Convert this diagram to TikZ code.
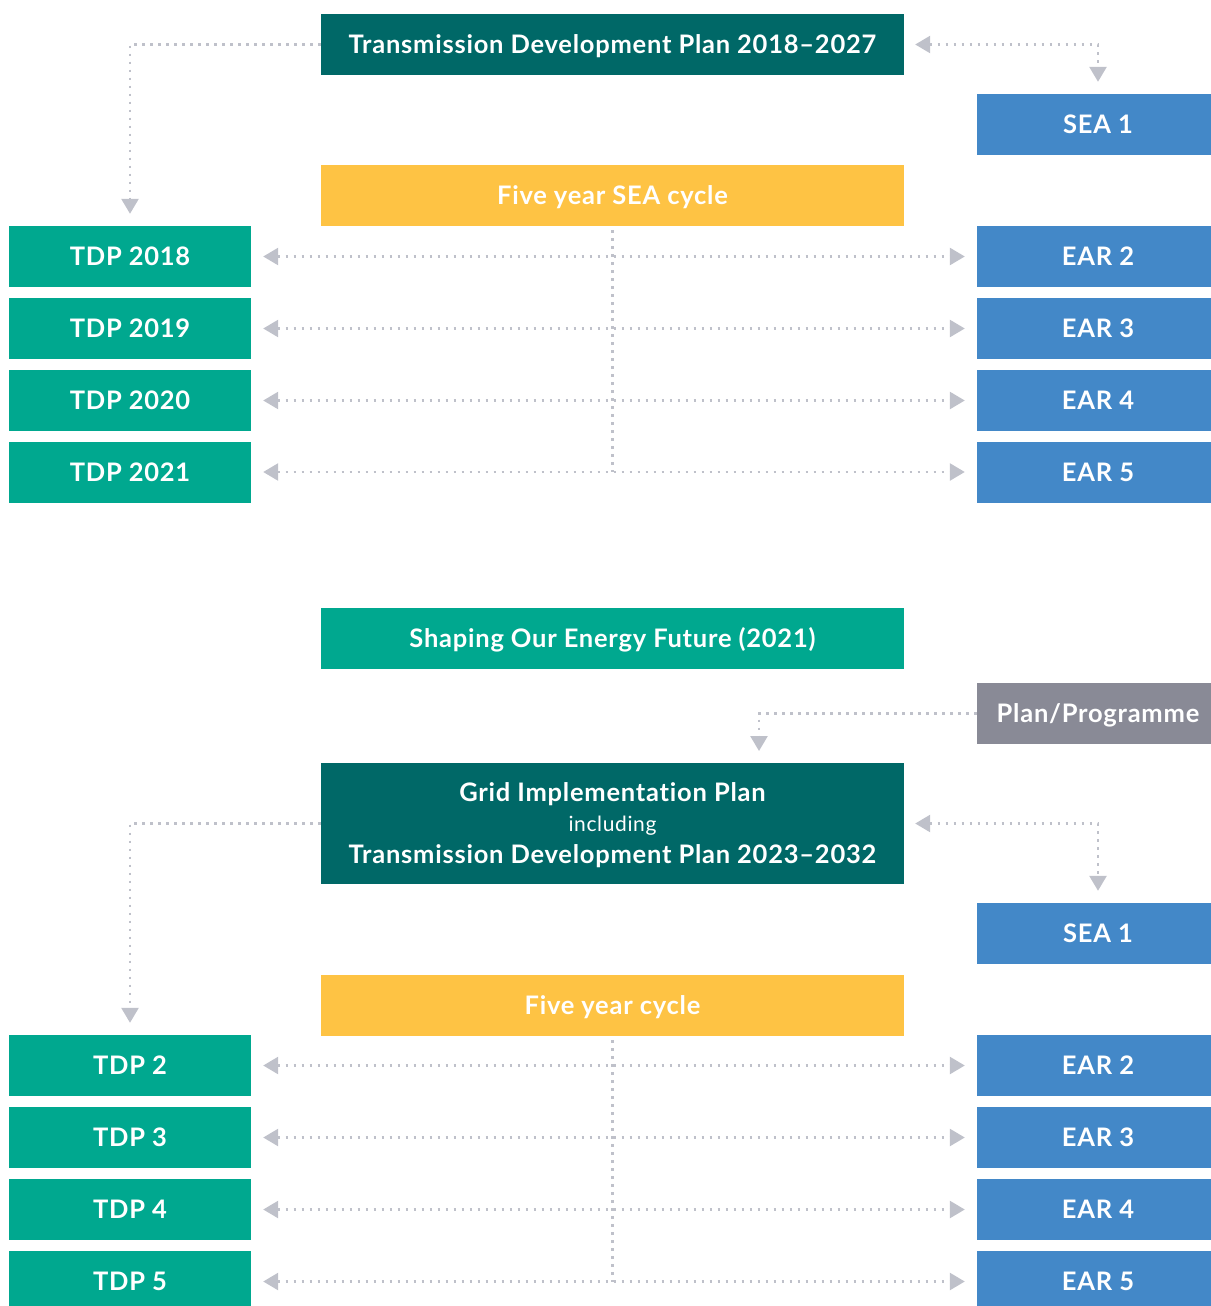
\documentclass[tikz,border=0pt]{standalone}
\usepackage{fontspec}
\setmainfont{Lato}[LetterSpace=3,Ligatures=NoCommon]
\usetikzlibrary{arrows.meta}
\definecolor{dteal}{HTML}{006867}
\definecolor{mgreen}{HTML}{00A88F}
\definecolor{mblue}{HTML}{4388C8}
\definecolor{myellow}{HTML}{FEC344}
\definecolor{mgray}{HTML}{898A96}
\definecolor{lgray}{HTML}{BFC1CA}
\tikzset{
  box/.style={rectangle, inner sep=0pt, minimum height=61pt, text=white, font=\fontsize{25.5}{28}\selectfont\bfseries},
  oneline/.style={box, text height=18pt, text depth=0pt},
  wide/.style={oneline, minimum width=583pt},
  lbox/.style={oneline, minimum width=242pt},
  rbox/.style={oneline, minimum width=242pt},
  dots/.style={lgray, line width=2.6pt, dash pattern=on 2.6pt off 5.4pt},
  tip/.style={-{Triangle[length=15pt,width=17pt]}},
  tips/.style={{Triangle[length=15pt,width=17pt]}-{Triangle[length=15pt,width=17pt]}}
}
\begin{document}
\begin{tikzpicture}[x=1pt,y=-1pt]
\useasboundingbox (0,0) rectangle (1210,1306);
% top section
\node[wide, fill=dteal] (hdr1) at (612.5,44.5) {Transmission Development Plan 2018–2027};
\node[rbox, fill=mblue] (seaA) at (1098,124.5) {SEA 1};
\node[wide, fill=myellow] (cycA) at (612.5,195.5) {Five year SEA cycle};
\node[lbox, fill=mgreen] (tA1) at (130,256.5) {TDP 2018};
\node[lbox, fill=mgreen] (tA2) at (130,328.5) {TDP 2019};
\node[lbox, fill=mgreen] (tA3) at (130,400.5) {TDP 2020};
\node[lbox, fill=mgreen] (tA4) at (130,472) {TDP 2021};
\node[rbox, fill=mblue] (eA1) at (1098,256.5) {EAR 2};
\node[rbox, fill=mblue] (eA2) at (1098,328.5) {EAR 3};
\node[rbox, fill=mblue] (eA3) at (1098,400.5) {EAR 4};
\node[rbox, fill=mblue] (eA4) at (1098,472) {EAR 5};
% bottom section
\node[wide, fill=mgreen] (sof) at (612.5,638.5) {Shaping Our Energy Future (2021)};
\node[rbox, fill=mgray] (pp) at (1098,713.5) {Plan/Programme};
\node[box, minimum width=583pt, fill=dteal, minimum height=121pt, align=center, text depth=0pt] (gip) at (612.5,823.5)
  {Grid Implementation Plan\\[2pt]{\fontsize{21}{24}\selectfont\mdseries including}\\[4pt]Transmission Development Plan 2023–2032};
\node[rbox, fill=mblue] (seaB) at (1098,933.5) {SEA 1};
\node[wide, fill=myellow] (cycB) at (612.5,1005.5) {Five year cycle};
\node[lbox, fill=mgreen] (tB1) at (130,1065.5) {TDP 2};
\node[lbox, fill=mgreen] (tB2) at (130,1137.5) {TDP 3};
\node[lbox, fill=mgreen] (tB3) at (130,1209.5) {TDP 4};
\node[lbox, fill=mgreen] (tB4) at (130,1281.5) {TDP 5};
\node[rbox, fill=mblue] (eB1) at (1098,1065.5) {EAR 2};
\node[rbox, fill=mblue] (eB2) at (1098,1137.5) {EAR 3};
\node[rbox, fill=mblue] (eB3) at (1098,1209.5) {EAR 4};
\node[rbox, fill=mblue] (eB4) at (1098,1281.5) {EAR 5};
\coordinate (gipin) at (759,763);
% connectors top
\draw[dots, tip, shorten >=12pt] (hdr1.west) -| (tA1.north);
\draw[dots, tips, shorten <=11pt, shorten >=12pt] (hdr1.east) -| (seaA.north);
\draw[dots, shorten <=4pt] (cycA.south) -- (cycA.south |- tA4.center);
\foreach \a/\b in {tA1/eA1,tA2/eA2,tA3/eA3,tA4/eA4}
  \draw[dots, tips, shorten <=12pt, shorten >=12pt] (\a.east) -- (\b.west);
% connectors bottom
\draw[dots, tip, shorten >=12pt] (pp.west) -| (gipin);
\draw[dots, tip, shorten >=12pt] (gip.west) -| (tB1.north);
\draw[dots, tips, shorten <=11pt, shorten >=12pt] (gip.east) -| (seaB.north);
\draw[dots, shorten <=4pt] (cycB.south) -- (cycB.south |- tB4.center);
\foreach \a/\b in {tB1/eB1,tB2/eB2,tB3/eB3,tB4/eB4}
  \draw[dots, tips, shorten <=12pt, shorten >=12pt] (\a.east) -- (\b.west);
\end{tikzpicture}
\end{document}
